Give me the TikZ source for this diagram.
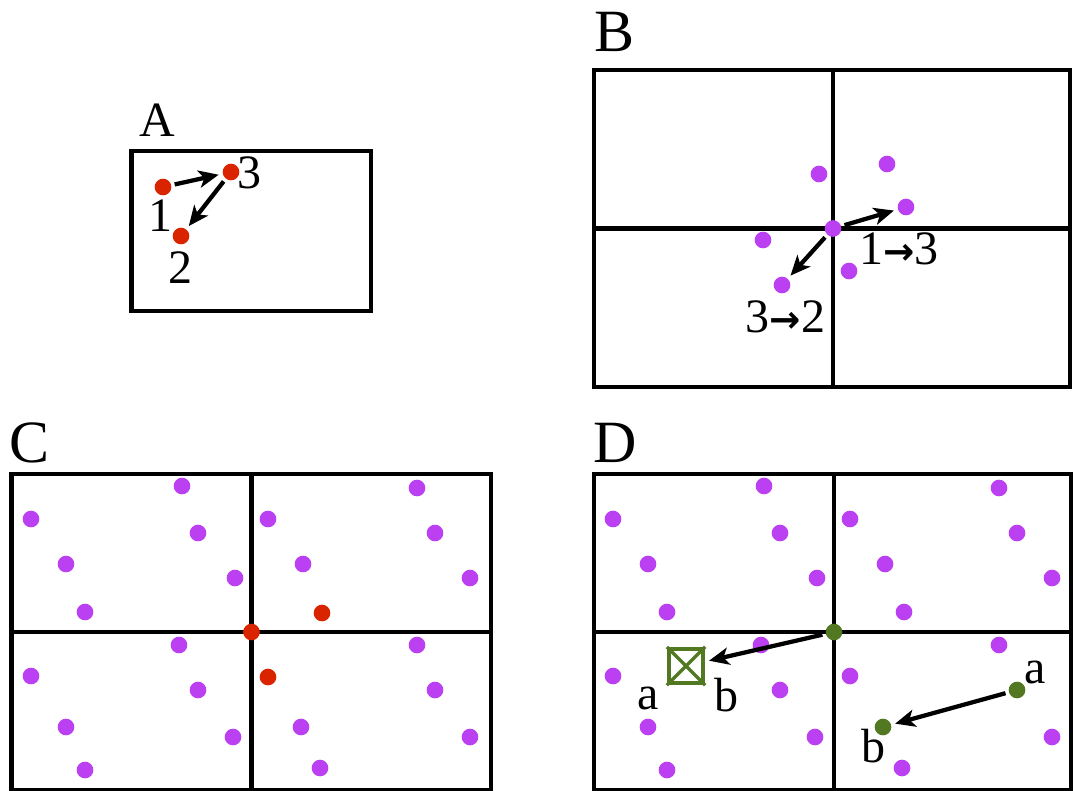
\documentclass[tikz,border=0pt]{standalone}
\usepackage{fontspec}
\setmainfont{Liberation Serif}
\newfontfamily\arrowfont{DejaVu Sans}
\usepackage{tikz}
\usetikzlibrary{arrows.meta}
\definecolor{dotpurple}{RGB}{187,64,242}
\definecolor{dotred}{RGB}{218,36,0}
\definecolor{dotgreen}{RGB}{82,120,34}
\newcommand{\tinyto}{{\arrowfont\bfseries\fontsize{28}{30}\selectfont →}}
\tikzset{
  frame/.style={line width=3.5pt},
  pdot/.style={circle,fill=dotpurple,inner sep=0pt,minimum size=12.5pt},
  rdot/.style={pdot,fill=dotred},
  gdot/.style={pdot,fill=dotgreen},
  hop/.style={-{Stealth[length=15pt,width=13pt,inset=4pt]},line width=3.2pt,
    shorten <=2.5pt,shorten >=3pt},
  lbl/.style={font=\fontsize{36}{40}\selectfont,inner sep=0pt},
  panel/.style={font=\fontsize{45}{50}\selectfont,inner sep=0pt},
}

\begin{document}
\begin{tikzpicture}[x=0.75pt,y=-0.75pt]
  \useasboundingbox (0,0) rectangle (1073,790);
  % A: one cell
  \node[panel,font=\fontsize{37}{40}\selectfont] (labA) at (157,120) {A};
  \draw[frame] (131.5,151) rectangle (371,311);
  \node[rdot] (a1) at (163,187) {};
  \node[rdot] (a3) at (231,172) {};
  \node[rdot] (a2) at (181,236) {};
  \node[lbl] (n1) at (160,216) {1};
  \node[lbl] (n3) at (249,173) {3};
  \node[lbl] (n2) at (180,268) {2};
  \draw[hop] (a1) -- (a3);
  \draw[hop] (a3) -- (a2);
  % B: four cells round the corner
  \node[panel] (labB) at (614,32) {B};
  \draw[frame] (594,70) rectangle (1070,387);
  \draw[frame] (833,70) -- (833,387);
  \draw[frame] (594,228.5) -- (1070,228.5);
  \node[pdot] (b4) at (819,174) {};
  \node[pdot] (b5) at (887,164) {};
  \node[pdot] (b3) at (906,207) {};
  \node[pdot] (b6) at (763,240) {};
  \node[pdot] (b7) at (849,271) {};
  \node[pdot] (b2) at (782,285) {};
  \node[pdot] (b0) at (833,228.5) {};
  \draw[hop] (b0) -- (b3);
  \draw[hop] (b0) -- (b2);
  \node[lbl] (m13) at (899,249) {1\tinyto3};
  \node[lbl] (m32) at (785.5,316.5) {3\tinyto2};
  % C and D: the same lattice, D shifted by 582
  \node[panel] (labC) at (30,443) {C};
  \node[panel] (labD) at (615,443) {D};
  \draw[frame] (11.5,474) rectangle (491,790);
  \draw[frame] (251.5,474) -- (251.5,790);
  \draw[frame] (11.5,632) -- (491,632);
  \draw[frame] (594,474) rectangle (1071,790);
  \draw[frame] (834,474) -- (834,790);
  \draw[frame] (594,632) -- (1071,632);
  \foreach \dx in {0,582}
    \foreach \x/\y in {182/486,31/519,198/533,66/564,235/578,85/612,
                       417/488,268/519,435/533,303/564,470/578,
                       179/645,31/676,198/690,66/727,233/737,85/770,
                       417/645,470/737,320/768}
      \fill[dotpurple] (\x+\dx,\y) circle (6.25pt);
  % C only
  \fill[dotpurple] (435,690) circle (6.25pt);
  \fill[dotpurple] (301,727) circle (6.25pt);
  \node[rdot] (c1) at (322,613) {};
  \node[rdot] (c2) at (268,677) {};
  \node[rdot] (c0) at (251.5,632) {};
  % D only
  \fill[dotpurple] (904,612) circle (6.25pt);
  \fill[dotpurple] (850,676) circle (6.25pt);
  \node[gdot] (d0) at (834,632) {};
  \node[gdot] (da) at (1017,690) {};
  \node[gdot] (db) at (883,727) {};
  \node[draw=dotgreen,line width=3.2pt,minimum size=25.5pt,inner sep=0pt] (gbox) at (686,666) {};
  \draw[dotgreen,line width=2.6pt] (gbox.north west) -- (gbox.south east)
    (gbox.north east) -- (gbox.south west);
  \draw[hop] (d0) -- (gbox);
  \draw[hop] (da) -- (db);
  \node[lbl] (la1) at (648,698.5) {a};
  \node[lbl] (lb1) at (726.5,695.5) {b};
  \node[lbl] (la2) at (1035,672.5) {a};
  \node[lbl] (lb2) at (873,746.5) {b};
\end{tikzpicture}
\end{document}
